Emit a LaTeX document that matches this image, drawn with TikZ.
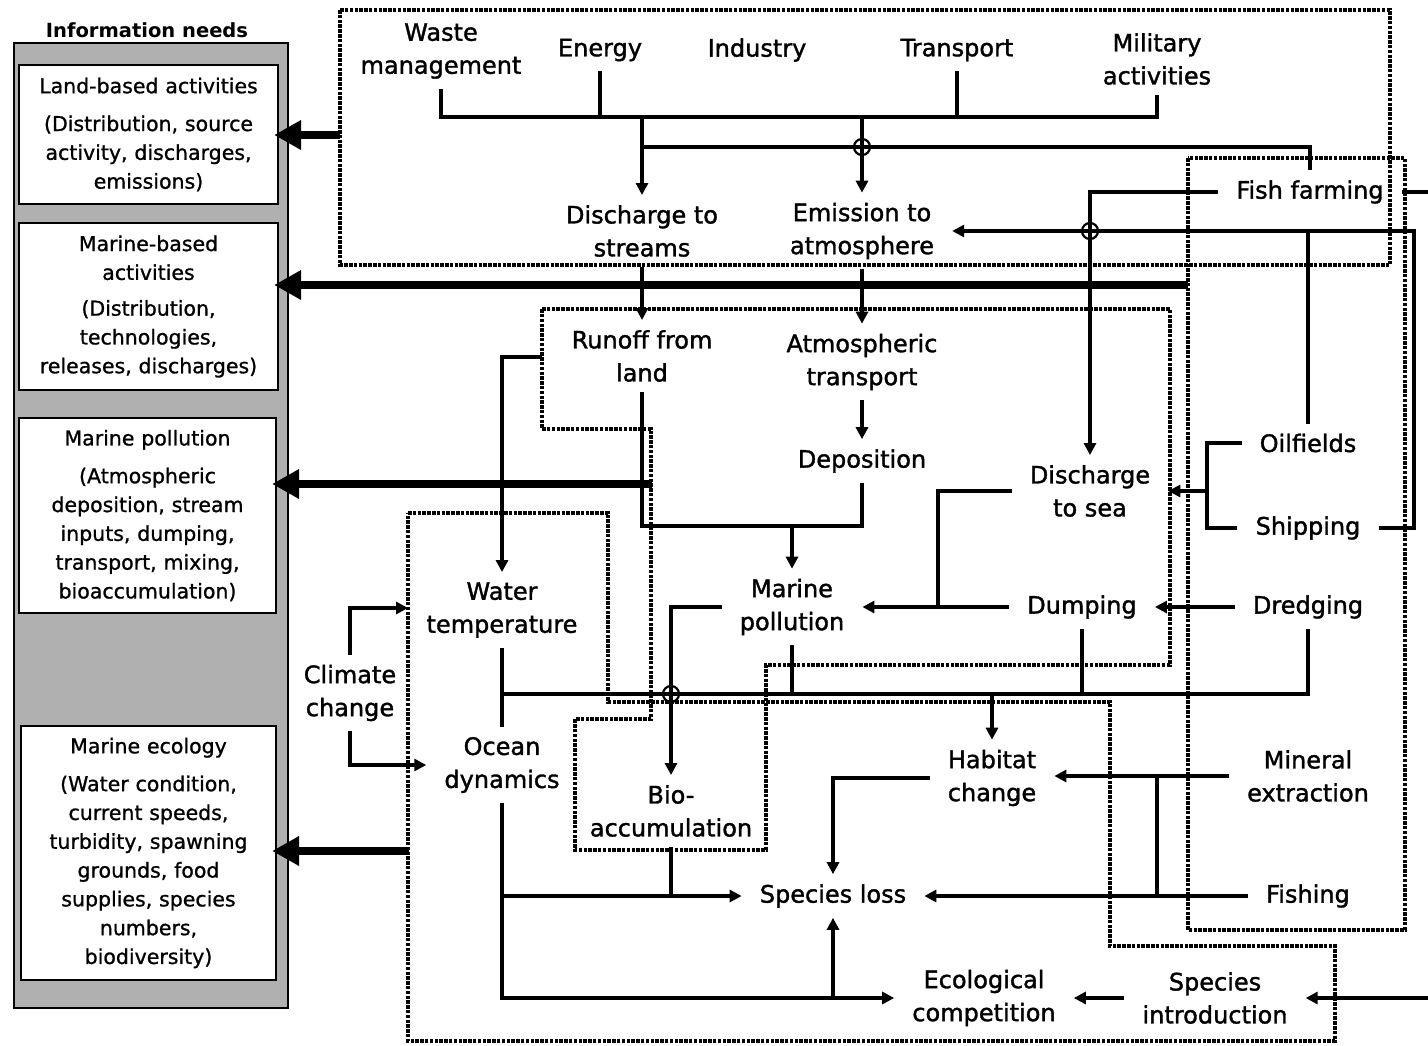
\documentclass[tikz,border=0pt]{standalone}
\usepackage{fontspec}
\setmainfont{DejaVu Sans}
\newfontfamily\lblfont[FakeBold=1.4]{DejaVu Sans}
\newfontfamily\infofont[FakeBold=1]{DejaVu Sans}
\usetikzlibrary{arrows.meta}
\begin{document}
\begin{tikzpicture}[x=1pt,y=-1pt,
  lbl/.style={font=\lblfont\fontsize{24}{33}\selectfont, align=center, inner xsep=18pt, inner ysep=10pt},
  ln/.style={line width=3.3pt},
  arr/.style={line width=3.3pt, -{Triangle[length=12pt,width=12pt]}},
  thk/.style={line width=8.5pt, -{Triangle[length=27pt,width=28pt]}},
  dotbox/.style={line width=3.2pt, dash pattern=on 3.5pt off 1.3pt},
  hop/.style={circle, draw, line width=2.2pt, minimum size=16pt, inner sep=0pt},
  info/.style={draw, line width=2.2pt, fill=white, align=center, text width=250pt,
    font=\infofont\fontsize{20.5}{28.8}\selectfont, inner sep=0pt},
]
\useasboundingbox (0,0) rectangle (1428,1045);
\fill[white] (0,0) rectangle (1428,1045);

% ---------- information panel ----------
\node[font=\bfseries\fontsize{19.5}{22}\selectfont] (title) at (147,30) {Information needs};
\node[draw, line width=2.2pt, fill=black!31, minimum width=274pt, minimum height=965pt, inner sep=0pt] (panel) at (151,525.5) {};
\node[info, minimum width=259pt, minimum height=139pt] (land) at (148.5,134.5)
  {Land-based activities\\[9pt](Distribution, source\\activity, discharges,\\emissions)};
\node[info, minimum width=259pt, minimum height=167pt] (mbased) at (148.5,306.5)
  {Marine-based\\activities\\[7pt](Distribution,\\technologies,\\releases, discharges)};
\node[info, minimum width=257pt, minimum height=195pt] (mpinfo) at (147.5,515.5)
  {Marine pollution\\[9pt](Atmospheric\\deposition, stream\\inputs, dumping,\\transport, mixing,\\bioaccumulation)};
\node[info, minimum width=255pt, minimum height=254pt] (ecoinfo) at (148.5,853)
  {Marine ecology\\[9pt](Water condition,\\current speeds,\\turbidity, spawning\\grounds, food\\supplies, species\\numbers,\\biodiversity)};

% ---------- dotted regions ----------
\draw[dotbox] (340,10) rectangle (1390,265);
\draw[dotbox] (1188,158) rectangle (1405,930);
\draw[dotbox] (542,309) -- (1170,309) -- (1170,665) -- (766,665) -- (766,850) -- (575,850)
  -- (575,719) -- (651,719) -- (651,429) -- (542,429) -- cycle;
\draw[dotbox] (408,513) -- (608,513) -- (608,702) -- (1110,702) -- (1110,946) -- (1335,946)
  -- (1335,1041) -- (408,1041) -- cycle;

% ---------- nodes ----------
\node[lbl] (waste) at (441,51) {Waste\\management};
\node[lbl] (energy) at (600,50) {Energy};
\node[lbl] (industry) at (757,50) {Industry};
\node[lbl] (transport) at (957,50) {Transport};
\node[lbl] (military) at (1157,59) {Military\\activities};
\node[lbl] (dstreams) at (642,231) {Discharge to\\streams};
\node[lbl] (emission) at (862,231) {Emission to\\atmosphere};
\node[lbl] (fish) at (1310,192) {Fish farming};
\node[lbl] (runoff) at (642,356) {Runoff from\\land};
\node[lbl] (atmos) at (862,362) {Atmospheric\\transport};
\node[lbl] (depo) at (862,461) {Deposition};
\node[lbl] (dsea) at (1090,491) {Discharge\\to sea};
\node[lbl] (oil) at (1308,443) {Oilfields};
\node[lbl] (ship) at (1308,528) {Shipping};
\node[lbl] (wtemp) at (502,610) {Water\\temperature};
\node[lbl] (climate) at (350,693) {Climate\\change};
\node[lbl] (mpoll) at (792,607) {Marine\\pollution};
\node[lbl] (dump) at (1082,607) {Dumping};
\node[lbl] (dredge) at (1308,607) {Dredging};
\node[lbl] (ocean) at (502,765) {Ocean\\dynamics};
\node[lbl] (bio) at (671,811) {Bio-\\accumulation};
\node[lbl] (habitat) at (992,778) {Habitat\\change};
\node[lbl] (mineral) at (1308,776) {Mineral\\extraction};
\node[lbl] (sloss) at (833,896) {Species loss};
\node[lbl] (fishing) at (1308,896) {Fishing};
\node[lbl] (ecocomp) at (984,998) {Ecological\\competition};
\node[lbl] (sintro) at (1215,998) {Species\\introduction};

% ---------- helper coordinates ----------
\coordinate (yBus) at (0,117);
\coordinate (yFish) at (0,147);
\coordinate (yMerge) at (0,526);
\coordinate (yHab) at (0,694);
\coordinate (xR) at (1414,0);
\coordinate (xBr) at (1207,0);
\coordinate (xDS) at (938,0);
\coordinate (xMF) at (1157,0);
\coordinate (cW) at (542,357);
\coordinate (cT) at (408,608);
\coordinate (edgeFish) at (1428,192);
\coordinate (edgeSI) at (1428,998);
\coordinate (t1) at (340,135);
\coordinate (t2) at (1188,285);
\coordinate (t3) at (652,484);
\coordinate (t4) at (409,851);

% ---------- top bus ----------
\draw[ln] (waste.south) -- (waste.south |- yBus) -- (military.south |- yBus) -- (military.south);
\draw[ln] (energy.south) -- (energy.south |- yBus);
\draw[ln] (transport.south) -- (transport.south |- yBus);
\draw[arr] (dstreams.north |- yBus) -- (dstreams.north);
\draw[arr] (emission.north |- yBus) -- (emission.north);
\draw[ln] (fish.north) -- (fish.north |- yFish) -- (dstreams.north |- yFish);
\node[hop] (hop1) at (emission.north |- yFish) {};

% fish farming / oil / shipping
\draw[arr] (fish.west) -| (dsea.north);
\draw[arr] (ship.east) -- (xR |- ship.east) -- (xR |- emission.east) -- (emission.east);
\draw[ln] (oil.north) -- (oil.north |- emission.east);
\node[hop] (hop2) at (dsea.north |- emission.east) {};
\draw[ln] (fish.east) -- (edgeFish);
\draw[ln] (oil.west) -- (xBr |- oil.west) -- (xBr |- ship.west) -- (ship.west);
\draw[arr] (xBr |- dsea.east) -- (dsea.east);

% pollution chain
\draw[arr] (dstreams.south) -- (runoff.north);
\draw[arr] (emission.south) -- (atmos.north);
\draw[arr] (atmos.south) -- (depo.north);
\draw[ln] (runoff.south) -- (runoff.south |- yMerge) -- (depo.south |- yMerge) -- (depo.south);
\draw[arr] (mpoll.north |- yMerge) -- (mpoll.north);
\draw[arr] (cW) -| (wtemp.north);
\draw[ln] (dsea.west) -- (xDS |- dsea.west) -- (xDS |- dump.west);
\draw[arr] (dump.west) -- (mpoll.east |- dump.west);
\draw[arr] (dredge.west) -- (dump.east |- dredge.west);

% climate / ocean
\draw[arr] (climate.north) |- (cT);
\draw[arr] (climate.south) |- (ocean.west);
\draw[ln] (wtemp.south) -- (ocean.north);
\draw[ln] (wtemp.south |- yHab) -- (dredge.south |- yHab) -- (dredge.south);
\draw[ln] (mpoll.south) -- (mpoll.south |- yHab);
\draw[ln] (dump.south) -- (dump.south |- yHab);
\draw[arr] (habitat.north |- yHab) -- (habitat.north);
\draw[arr] (mpoll.west) -| (bio.north);
\node[hop] (hop3) at (bio.north |- yHab) {};

% ecology
\draw[arr] (ocean.south) |- (ecocomp.west);
\draw[arr] (ocean.south |- sloss.west) -- (sloss.west);
\draw[ln] (bio.south) -- (bio.south |- sloss.west);
\draw[arr] (sloss.south |- ecocomp.west) -- (sloss.south);
\draw[arr] (habitat.west) -| (sloss.north);
\draw[arr] (mineral.west) -- (habitat.east |- mineral.west);
\draw[arr] (fishing.west) -- (sloss.east);
\draw[ln] (xMF |- mineral.west) -- (xMF |- fishing.west);
\draw[arr] (sintro.west) -- (ecocomp.east |- sintro.west);
\draw[arr] (edgeSI) -- (sintro.east);

% ---------- thick arrows to information needs ----------
\draw[thk] (t1) -- ([xshift=-5pt]land.east |- t1);
\draw[thk] (t2) -- ([xshift=-5pt]mbased.east |- t2);
\draw[thk] (t3) -- ([xshift=-5pt]mpinfo.east |- t3);
\draw[thk] (t4) -- ([xshift=-5pt]ecoinfo.east |- t4);
\end{tikzpicture}
\end{document}
